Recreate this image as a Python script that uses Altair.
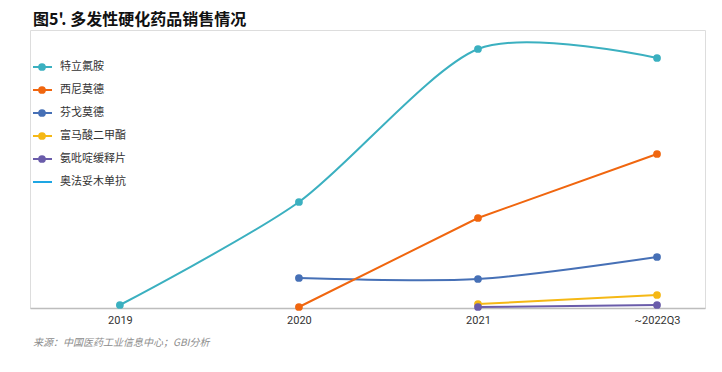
import altair as alt
import pandas as pd

# ---- data ----
periods = ["2019", "2020", "2021", "~2022Q3"]
series_names = ["特立氟胺", "西尼莫德", "芬戈莫德", "富马酸二甲酯", "氨吡啶缓释片", "奥法妥木单抗"]
colors = ["#3BB0C0", "#F0660F", "#4670B6", "#F5B815", "#6A5CAA", "#1EA6E3"]

teriflunomide = [3, 106, 259, 250]
siponimod = [None, 1, 90, 154]
fingolimod = [None, 30, 29, 51]
dimethyl_fumarate = [None, None, 4, 13]
dalfampridine = [None, None, 1, 3]
ofatumumab = [None, None, None, None]

title_text = "图5'. 多发性硬化药品销售情况"
source_text = "来源：中国医药工业信息中心；GBI分析"

all_values = [teriflunomide, siponimod, fingolimod, dimethyl_fumarate, dalfampridine, ofatumumab]
smooth_series = {"特立氟胺", "芬戈莫德"}

rows = []
for name, vals in zip(series_names, all_values):
    for p, v in zip(periods, vals):
        if v is not None:
            rows.append({"series": name, "period": p, "value": v,
                         "smooth": name in smooth_series})
df = pd.DataFrame(rows)

legend_df = pd.DataFrame({"series": series_names, "i": list(range(len(series_names))),
                          "has_point": [True, True, True, True, True, False]})

FONT = "Noto Sans CJK SC"

color_scale = alt.Scale(domain=series_names, range=colors)
x_enc = alt.X("period:N", sort=periods,
              scale=alt.Scale(type="point", padding=0.385, align=0.652),
              axis=alt.Axis(title=None, labelAngle=0, ticks=False, grid=False,
                            domainColor="#BDBDBD", domainWidth=1.5,
                            labelColor="#333333", labelFontSize=11, labelFont="Roboto",
                            labelPadding=6))
y_enc = alt.Y("value:Q", scale=alt.Scale(domain=[0, 278], nice=False, zero=True), axis=None)
c_enc = alt.Color("series:N", scale=color_scale, legend=None)

base = alt.Chart(df)

smooth_lines = base.transform_filter("datum.smooth").mark_line(
    interpolate="cardinal", tension=0.2, strokeWidth=2).encode(
    x=x_enc, y=y_enc, color=c_enc, detail="series:N")
straight_lines = base.transform_filter("!datum.smooth").mark_line(
    strokeWidth=2).encode(x=x_enc, y=y_enc, color=c_enc, detail="series:N")
points = base.mark_circle(size=60, opacity=1).encode(x=x_enc, y=y_enc, color=c_enc)

# manual legend
leg = alt.Chart(legend_df).transform_calculate(ly="37 + datum.i * 23")
leg_rule = leg.mark_rule(strokeWidth=2).encode(
    x=alt.value(3), x2=alt.value(22), y=alt.Y("ly:Q", scale=None),
    color=alt.Color("series:N", scale=color_scale, legend=None))
leg_pt = leg.transform_filter("datum.has_point").mark_circle(size=60, opacity=1).encode(
    x=alt.value(12), y=alt.Y("ly:Q", scale=None),
    color=alt.Color("series:N", scale=color_scale, legend=None))
leg_txt = leg.mark_text(align="left", baseline="middle", fontSize=11, font=FONT,
                        color="#333333").encode(
    x=alt.value(30), y=alt.Y("ly:Q", scale=None), text="series:N")

title = alt.Chart(pd.DataFrame({"t": [title_text]})).mark_text(
    align="left", baseline="middle", fontSize=16, fontWeight="bold", font=FONT,
    color="#111111").encode(x=alt.value(3), y=alt.value(-10), text="t:N")
source = alt.Chart(pd.DataFrame({"t": [source_text]})).mark_text(
    align="left", baseline="middle", fontSize=10, fontStyle="italic", font=FONT,
    color="#8C8C8C").encode(x=alt.value(3), y=alt.value(313), text="t:N")

chart = alt.layer(smooth_lines, straight_lines, points,
                  leg_rule, leg_pt, leg_txt, title, source).properties(
    width=675, height=278,
    padding={"left": 22, "top": 22, "right": 9, "bottom": 56},
    autosize=alt.AutoSizeParams(type="none"),
).configure_view(stroke=None).configure(background="white")

chart.save("out.html", embed_options={"renderer": "svg", "actions": False})
